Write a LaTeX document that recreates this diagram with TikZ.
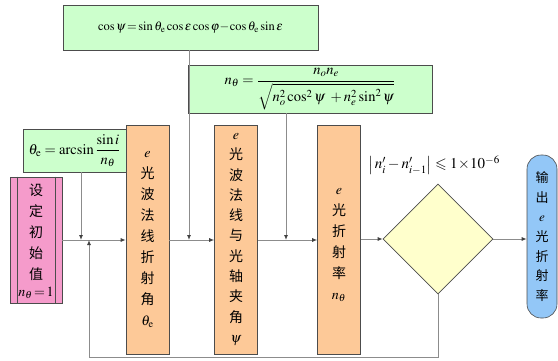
\documentclass[tikz,border=0pt]{standalone}
\usepackage{amsmath}
\usepackage{mathptmx}
\usepackage{amssymb}
\usepackage{fontspec}
\setmainfont{Liberation Serif}
\newfontfamily\cjk{Noto Sans CJK SC}
\usetikzlibrary{shapes.geometric,arrows.meta}
\definecolor{gfill}{HTML}{CCFFCC}
\definecolor{ofill}{HTML}{FDC998}
\definecolor{pfill}{HTML}{F59BCB}
\definecolor{yfill}{HTML}{FFFFCC}
\definecolor{bfill}{HTML}{93C7F7}
\definecolor{lin}{HTML}{8C8C8C}
\tikzset{
  formbox/.style={draw=gray!60!black, fill=gfill, line width=0.6pt, inner sep=0pt},
  vbox/.style={draw=gray!60!black, fill=ofill, line width=0.6pt, inner sep=0pt, align=center,
    font=\cjk\fontsize{14}{21}\selectfont},
  arr/.style={draw=lin, line width=0.9pt, -{Latex[length=5pt,width=4pt,color=black!75]}},
  ln/.style={draw=lin, line width=0.9pt}
}
\begin{document}
\begin{tikzpicture}[x=1pt,y=-1pt]
\useasboundingbox (0,0) rectangle (558,360);
% formula boxes
\node[formbox, minimum width=255, minimum height=45] (top) at (190.5,27.5)
  {\fontsize{12.5}{14}\selectfont $\cos\psi\!=\!\sin\theta_{\rm e}\cos\varepsilon\cos\varphi\!-\!\cos\theta_{\rm e}\sin\varepsilon$};
\node[formbox, minimum width=244, minimum height=48] (nth) at (310,89)
  {\fontsize{14.5}{16}\selectfont $n_\theta=\dfrac{n_o n_e}{\sqrt{n_o^2\cos^2\psi\;+n_e^2\sin^2\psi}}$};
\node[formbox, minimum width=103, minimum height=43] (the) at (74.5,150.5)
  {\fontsize{14.5}{16}\selectfont $\theta_{\rm e}=\arcsin\dfrac{\sin i}{n_\theta}$};
% pink initial box
\node[draw=gray!60!black, fill=pfill, line width=0.6pt, minimum width=52, minimum height=126, inner sep=0pt] (init) at (36,240) {};
\draw[gray!60!black, line width=0.6pt] ([xshift=8pt]init.north west) -- ([xshift=8pt]init.south west);
\draw[gray!60!black, line width=0.6pt] ([xshift=-7pt]init.north east) -- ([xshift=-7pt]init.south east);
\node[align=center, font=\cjk\fontsize{14}{21}\selectfont, inner sep=0pt] (initt) at (36,241)
  {设\\定\\初\\始\\值\\[-4pt]{\fontsize{14}{16}\selectfont $n_\theta\!=\!1$}};
% orange boxes
\node[vbox, minimum width=43, minimum height=229] (b1) at (147.5,239.5)
  {$e$\\光\\波\\法\\线\\折\\射\\角\\$\theta_{\rm e}$};
\node[vbox, minimum width=43, minimum height=229, font=\cjk\fontsize{14}{20.3}\selectfont] (b2) at (236,239.5)
  {$e$\\光\\波\\法\\线\\与\\光\\轴\\夹\\角\\$\psi$};
\node[vbox, minimum width=43, minimum height=229] (b3) at (339,239.5) {};
\node[inner sep=0pt, align=center, font=\cjk\fontsize{14}{21}\selectfont] (b3t) at (339,245)
  {$e$\\光\\折\\射\\率\\$n_\theta$};
% diamond
\node[diamond, draw=gray!60!black, fill=yfill, line width=0.6pt, minimum width=110, minimum height=110, inner sep=0pt] (dec) at (438,239) {};
\node[inner sep=0pt, font=\fontsize{15}{17}\selectfont] (cond) at (434,165)
  {$\left|\,n_i'-n_{i-1}'\right|\leqslant1\!\times\!10^{-6}$};
% output
\node[draw=gray!60!black, fill=bfill, line width=0.6pt, rounded corners=14pt, minimum width=30, minimum height=163, inner sep=0pt, align=center, font=\cjk\fontsize{13}{19.7}\selectfont] (out) at (542,236.5)
  {输\\出\\$e$\\光\\折\\射\\率};
% junction coordinates
\coordinate (j0) at (81,240);
\coordinate (jf) at (89,240);
\coordinate (j1) at (189,240);
\coordinate (j2) at (286,240);
\coordinate (fb1) at (438,357);
\coordinate (fb2) at (89,357);
% connectors
\draw[arr] (init.east |- j0) -- (b1.west |- j0);
\draw[arr] (the.south -| j0) -- (j0);
\draw[arr] (fb2) -- (jf);
\draw[arr] (b1.east |- j1) -- (b2.west |- j1);
\draw[arr] (top.south -| j1) -- (j1);
\draw[arr] (b2.east |- j2) -- (b3.west |- j2);
\draw[arr] (nth.south -| j2) -- (j2);
\draw[arr] (b3.east |- dec.west) -- (dec.west);
\draw[arr] (dec.east) -- (out.west |- dec.east);
\draw[ln] (dec.south) -- (fb1) -- (fb2);
\end{tikzpicture}
\end{document}
